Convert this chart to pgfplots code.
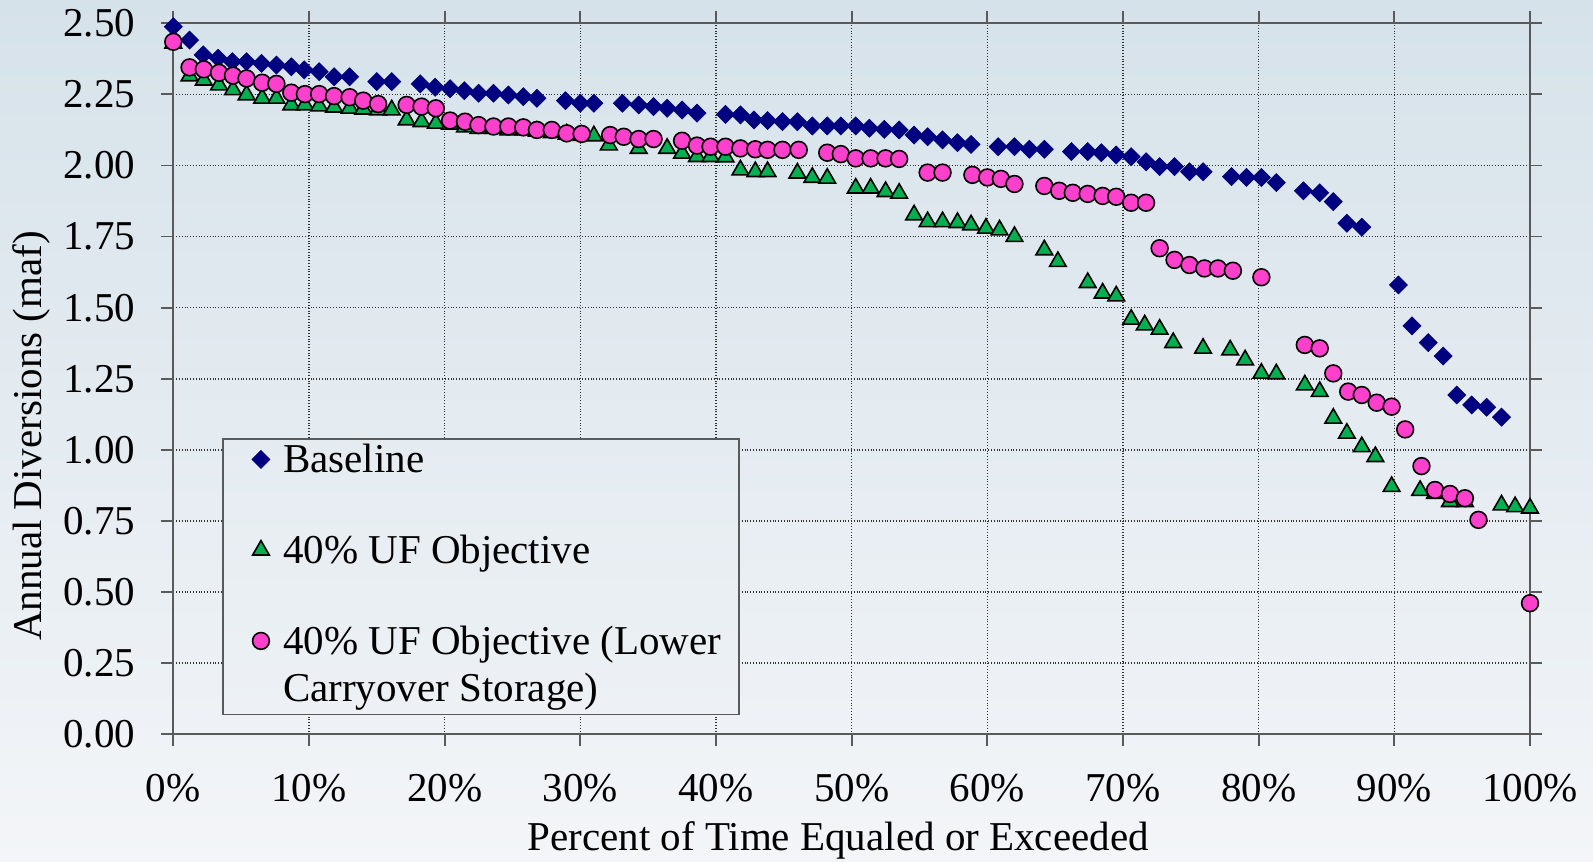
\documentclass[border=0pt]{standalone}
\usepackage{fontspec}
\setmainfont{Liberation Serif}
\usepackage{pgfplots}
\pgfplotsset{compat=1.18}
\definecolor{bgtop}{RGB}{214,226,234}
\definecolor{bgbot}{RGB}{243,245,248}
\definecolor{lgtop}{RGB}{229,236,241}
\definecolor{lgbot}{RGB}{237,241,245}
\definecolor{navy}{RGB}{0,0,128}
\definecolor{ggreen}{RGB}{0,176,80}
\definecolor{ppink}{RGB}{255,64,204}
\definecolor{axgray}{RGB}{90,90,90}
\definecolor{gridgray}{RGB}{50,50,50}
\begin{document}
\fontsize{20.5pt}{24.6pt}\selectfont
\begin{tikzpicture}
\shade[top color=bgtop, bottom color=bgbot] (0,0) rectangle (796.5pt,430.5pt);
\begin{axis}[
  at={(86.65pt,63.35pt)}, anchor=south west,
  scale only axis, width=678.35pt, height=355.5pt,
  xmin=0, xmax=100, ymin=0, ymax=2.5,
  xtick={0,10,20,30,40,50,60,70,80,90,100},
  xticklabels={0\%,10\%,20\%,30\%,40\%,50\%,60\%,70\%,80\%,90\%,100\%},
  ytick={0,0.25,0.5,0.75,1,1.25,1.5,1.75,2,2.25,2.5},
  yticklabel style={xshift=-6pt, /pgf/number format/fixed, /pgf/number format/fixed zerofill, /pgf/number format/precision=2, /pgf/number format/assume math mode=true},
  xticklabel style={yshift=-7pt},
  tick align=outside, major tick length=6pt,
  tick style={axgray, line width=0.9pt},
  axis line style={axgray, line width=1pt},
  grid=major, major grid style={gridgray, densely dotted, line width=0.8pt},
  clip=false,
  xlabel={Percent of Time Equaled or Exceeded},
  ylabel={Annual Diversions (maf)},
  every axis x label/.style={at={(axis description cs:0.49,-0.164)}, anchor=base},
  every axis y label/.style={at={(axis description cs:-0.0968,0.4195)}, anchor=base, rotate=90},
  legend image post style={yshift=6.6pt},
  legend style={at={(axis cs:3.62,1.0405)}, anchor=north west, draw=axgray, line width=0.7pt,
    top color=lgtop, bottom color=lgbot,
    inner xsep=14.4pt, inner ysep=1.3pt, row sep=24.5pt, column sep=5.5pt,
    nodes={inner sep=1pt, text height=14.5pt, text depth=},
    cells={anchor=base west}},
]
\addplot[only marks, mark=square*, mark size=3.2pt, mark options={rotate=45, fill=navy, draw=navy, line width=0.3pt}] coordinates {
(0,2.488) (1.2,2.441) (2.2,2.389) (3.3,2.377) (4.35,2.365) (5.4,2.365) (6.5,2.359) (7.6,2.353)
(8.7,2.347) (9.65,2.336) (10.75,2.330) (11.85,2.312) (13.0,2.312) (15.0,2.295) (16.1,2.295)
(18.2,2.287) (19.3,2.275) (20.4,2.270) (21.45,2.263) (22.5,2.254) (23.6,2.254) (24.7,2.248)
(25.8,2.242) (26.8,2.236) (28.9,2.228) (30.0,2.219) (31.0,2.219) (33.1,2.219) (34.3,2.213)
(35.4,2.207) (36.4,2.201) (37.5,2.195) (38.6,2.184) (40.7,2.180) (41.8,2.178) (42.8,2.160)
(43.8,2.158) (44.9,2.154) (46.0,2.154) (47.1,2.139) (48.2,2.139) (49.2,2.139) (50.3,2.139)
(51.3,2.131) (52.4,2.127) (53.5,2.125) (54.6,2.107) (55.6,2.101) (56.7,2.090) (57.8,2.080)
(58.8,2.074) (60.8,2.066) (62.0,2.066) (63.1,2.057) (64.2,2.057) (66.2,2.049) (67.4,2.049)
(68.4,2.045) (69.5,2.037) (70.6,2.031) (71.7,2.013) (72.7,1.996) (73.8,1.996) (74.9,1.978)
(75.9,1.978) (78.0,1.961) (79.1,1.958) (80.2,1.958) (81.3,1.940) (83.3,1.911) (84.5,1.904)
(85.5,1.873) (86.5,1.797) (87.6,1.783) (90.3,1.580) (91.3,1.436) (92.5,1.377) (93.6,1.330)
(94.6,1.193) (95.7,1.158) (96.8,1.150) (97.9,1.115)
};
\addlegendentry{Baseline\vphantom{j}}
\addplot[only marks, mark=triangle*, mark size=4.8pt, mark options={fill=ggreen, draw=black, line width=0.8pt}] coordinates {
(0,2.43) (1.2,2.315) (2.25,2.300) (3.37,2.283) (4.4,2.266) (5.4,2.248) (6.55,2.236) (7.6,2.236)
(8.7,2.213) (9.7,2.213) (10.75,2.209) (11.85,2.205) (13.0,2.201) (14.0,2.198) (15.1,2.195)
(16.1,2.195) (17.2,2.160) (18.3,2.154) (19.35,2.148) (20.4,2.145) (21.5,2.135) (22.5,2.130)
(23.6,2.130) (24.7,2.125) (25.8,2.125) (26.8,2.120) (27.9,2.115) (29.0,2.110) (30.1,2.105)
(31.0,2.104) (32.1,2.072) (34.3,2.060) (36.4,2.060) (37.5,2.043) (38.6,2.031) (39.6,2.031)
(40.7,2.030) (41.8,1.984) (42.9,1.978) (43.8,1.978) (46.0,1.973) (47.1,1.958) (48.2,1.955)
(50.3,1.920) (51.4,1.920) (52.5,1.908) (53.5,1.902) (54.6,1.826) (55.6,1.802) (56.7,1.802)
(57.8,1.799) (58.8,1.791) (59.9,1.779) (60.9,1.773) (62.0,1.750) (64.2,1.703) (65.2,1.662)
(67.4,1.588) (68.5,1.551) (69.5,1.541) (70.6,1.459) (71.6,1.439) (72.7,1.424) (73.7,1.377)
(75.9,1.357) (77.9,1.351) (79.0,1.316) (80.2,1.269) (81.3,1.267) (83.4,1.228) (84.5,1.205)
(85.5,1.111) (86.5,1.058) (87.6,1.011) (88.6,0.976) (89.8,0.871) (91.9,0.857) (93.0,0.847)
(94.1,0.818) (95.2,0.818) (97.9,0.806) (98.9,0.800) (100,0.795)
};
\addlegendentry{40\% UF Objective}
\addplot[only marks, mark=*, mark size=4.2pt, mark options={fill=ppink, draw=black, line width=0.8pt}] coordinates {
(0,2.435) (1.2,2.345) (2.25,2.338) (3.37,2.326) (4.4,2.316) (5.4,2.306) (6.55,2.291) (7.6,2.287)
(8.7,2.256) (9.7,2.251) (10.75,2.251) (11.85,2.244) (13.0,2.240) (14.0,2.228) (15.1,2.216)
(17.2,2.213) (18.3,2.207) (19.35,2.201) (20.4,2.158) (21.5,2.154) (22.5,2.142) (23.6,2.137)
(24.7,2.137) (25.8,2.134) (26.8,2.125) (27.9,2.125) (29.0,2.113) (30.1,2.111) (32.2,2.107)
(33.2,2.101) (34.3,2.093) (35.4,2.093) (37.5,2.087) (38.6,2.070) (39.6,2.066) (40.7,2.066)
(41.8,2.060) (42.9,2.057) (43.8,2.055) (44.9,2.055) (46.1,2.055) (48.2,2.045) (49.2,2.040)
(50.3,2.025) (51.4,2.025) (52.5,2.025) (53.5,2.023) (55.6,1.975) (56.7,1.975) (58.9,1.967)
(60.0,1.958) (61.0,1.953) (62.0,1.935) (64.2,1.928) (65.3,1.911) (66.3,1.904) (67.4,1.900)
(68.5,1.893) (69.5,1.890) (70.6,1.869) (71.7,1.869) (72.7,1.709) (73.8,1.668) (74.9,1.650)
(76.0,1.638) (77.0,1.638) (78.1,1.630) (80.2,1.607) (83.4,1.369) (84.5,1.357) (85.5,1.269)
(86.6,1.205) (87.6,1.193) (88.7,1.166) (89.8,1.152) (90.8,1.072) (92.0,0.943) (93.0,0.859)
(94.1,0.845) (95.2,0.830) (96.2,0.754) (100,0.461)
};
\addlegendentry{\vtop{\baselineskip=23.5pt\hbox{40\% UF Objective (Lower\kern-6.5pt}\hbox{Carryover Storage)}}}
\end{axis}
\pgfresetboundingbox
\path[use as bounding box] (0,0) rectangle (796.5pt,430.5pt);
\end{tikzpicture}
\end{document}
